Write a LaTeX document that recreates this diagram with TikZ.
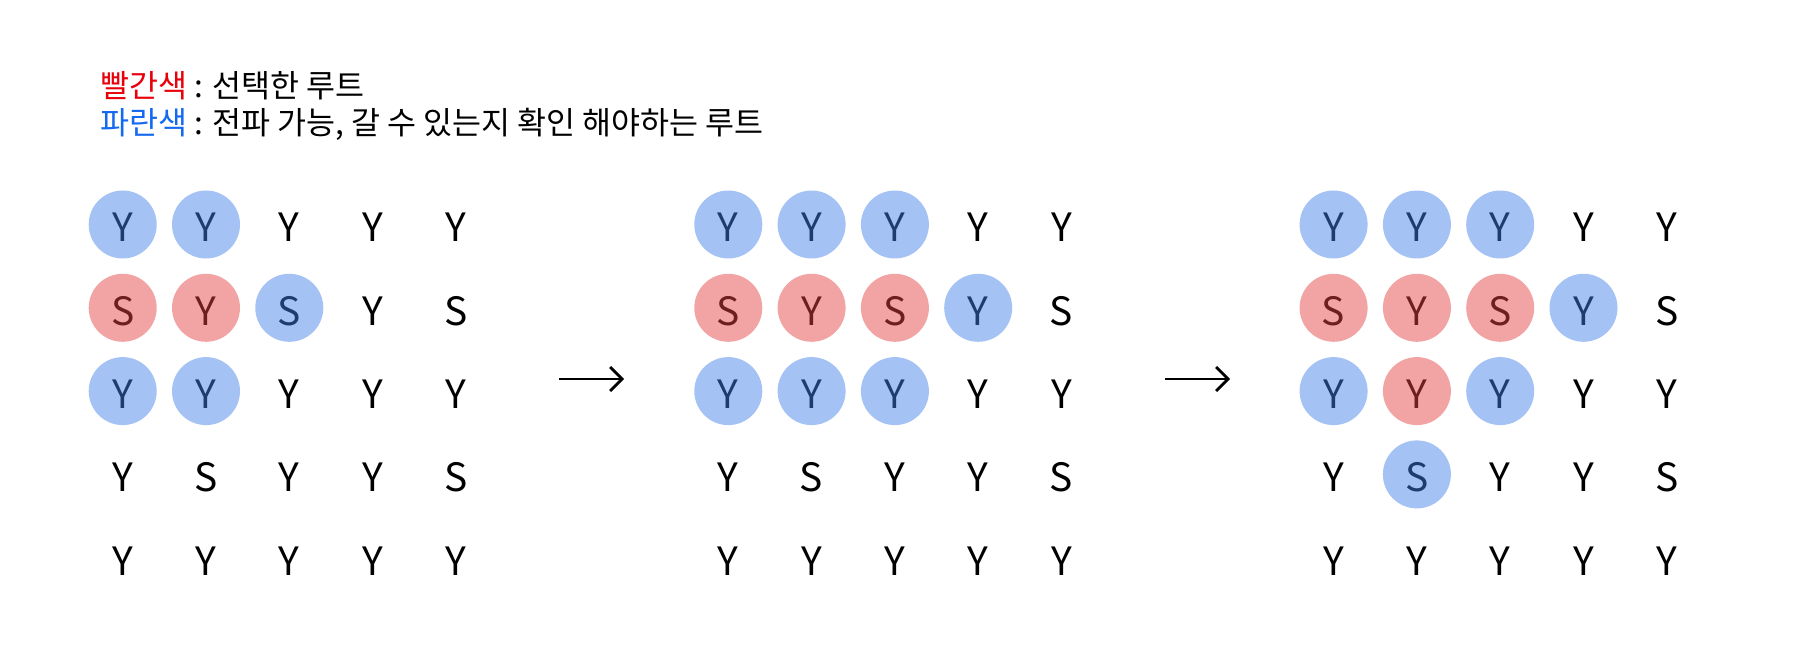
\documentclass[tikz,border=0pt]{standalone}
\usepackage{fontspec}
\setmainfont{Noto Sans CJK KR}
\usetikzlibrary{arrows.meta}
\definecolor{cblue}{HTML}{A4C2F4}
\definecolor{cred}{HTML}{F2A4A4}
\definecolor{tblue}{HTML}{1E3C6C}
\definecolor{tred}{HTML}{6E1E1E}
\definecolor{lred}{HTML}{E8000B}
\definecolor{lblue}{HTML}{1469F0}
\tikzset{
  cellbase/.style={circle,minimum size=68pt,inner sep=0pt,text height=35pt,text depth=0pt,font=\fontsize{39}{39}\selectfont},
  cb/.style={cellbase,fill=cblue,text=tblue},
  cr/.style={cellbase,fill=cred,text=tred},
  cn/.style={cellbase,text=black},
  legend/.style={anchor=base west,inner sep=0pt,font=\fontsize{31.5}{31.5}\selectfont},
  flow/.style={line width=2.8pt,-{Straight Barb[length=12pt,width=24pt,line width=2.8pt]}}
}
\begin{document}
\begin{tikzpicture}[x=1pt,y=-1pt]
\useasboundingbox (0,0) rectangle (1796,660);
\node[legend] (l1) at (100,97.5) {\textcolor{lred}{빨간색} : 선택한 루트};
\node[legend] (l2) at (100,135) {\textcolor{lblue}{파란색} : 전파 가능, 갈 수 있는지 확인 해야하는 루트};
\foreach \g/\ox/\rows in {
 1/122.7/{{Y/cb,Y/cb,Y/cn,Y/cn,Y/cn},{S/cr,Y/cr,S/cb,Y/cn,S/cn},{Y/cb,Y/cb,Y/cn,Y/cn,Y/cn},{Y/cn,S/cn,Y/cn,Y/cn,S/cn},{Y/cn,Y/cn,Y/cn,Y/cn,Y/cn}},
 2/728.3/{{Y/cb,Y/cb,Y/cb,Y/cn,Y/cn},{S/cr,Y/cr,S/cr,Y/cb,S/cn},{Y/cb,Y/cb,Y/cb,Y/cn,Y/cn},{Y/cn,S/cn,Y/cn,Y/cn,S/cn},{Y/cn,Y/cn,Y/cn,Y/cn,Y/cn}},
 3/1333.6/{{Y/cb,Y/cb,Y/cb,Y/cn,Y/cn},{S/cr,Y/cr,S/cr,Y/cb,S/cn},{Y/cb,Y/cr,Y/cb,Y/cn,Y/cn},{Y/cn,S/cb,Y/cn,Y/cn,S/cn},{Y/cn,Y/cn,Y/cn,Y/cn,Y/cn}}}{
  \foreach \row [count=\r] in \rows {
    \foreach \ch/\st [count=\c] in \row {
      \node[\st] (g\g-\r-\c) at ({\ox+(\c-1)*83.3},{224.5+(\r-1)*83.3}) {\ch};
    }
  }
}
\coordinate (a1s) at (559,379);
\coordinate (a1e) at (624,379);
\coordinate (a2s) at (1165,379);
\coordinate (a2e) at (1230,379);
\draw[flow] (a1s) -- (a1e);
\draw[flow] (a2s) -- (a2e);
\end{tikzpicture}
\end{document}
